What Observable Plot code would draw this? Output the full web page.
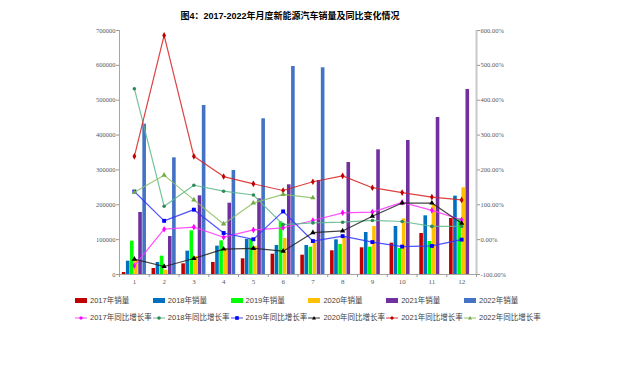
<!DOCTYPE html>
<html><head><meta charset="utf-8">
<script src="https://cdn.jsdelivr.net/npm/d3@7"></script>
<script src="https://cdn.jsdelivr.net/npm/@observablehq/plot@0.6"></script>
<style>
body{margin:0;background:#fff;}
#wrap{position:relative;width:620px;height:391px;overflow:hidden;background:#fff;}
#chart{position:absolute;left:0;top:0}
#title{position:absolute;left:0;top:9px;width:580px;text-align:center;font-weight:bold;font-size:9px;color:#000;line-height:14px;font-family:"Liberation Sans","Noto Sans CJK SC",sans-serif;}
.lg{position:absolute;font-size:7.5px;color:#404040;line-height:10px;white-space:nowrap;display:flex;align-items:center;font-family:"Liberation Sans","Noto Sans CJK SC",sans-serif;}
.sw{display:inline-block;width:12px;height:5px;margin-right:3px;}
.lg svg{margin-right:3px;}
</style></head><body>
<div id="wrap"><div id="chart"></div><div id="title">图4：2017-2022年月度新能源汽车销量及同比变化情况</div><div id="legend"></div></div>
<script>
const months = [1,2,3,4,5,6,7,8,9,10,11,12];
const leftTicks = [0,100000,200000,300000,400000,500000,600000,700000];

const sales2017 = [5700,17200,30600,34400,45000,58300,55400,68000,76600,89900,117600,160700];
const sales2018 = [38200,34400,66900,81300,100400,83200,83200,99500,120500,137700,168300,224800];
const sales2019 = [95600,52600,125300,96600,101000,151200,78300,86000,78300,74600,94700,159700];
const sales2020 = [40000,12400,51600,73600,80300,103300,95600,108200,137700,159700,200000,248700];
const sales2021 = [177900,109000,225700,204500,217100,257300,269700,321300,357700,384400,450400,530700];
const sales2022 = [431200,334700,484800,298400,446700,596700,593000];

const g2017 = [-75,30,36,7,28,34,55,77,79,107,84,57];
const g2018 = [433,96,156,139,128,43,48,50,55,52,38,38];
const g2019 = [138,54,86,19,1,81,-4,10,-7,-20,-18,0];
const g2020 = [-56,-77,-54,-27,-25,-33,20,25,67,105,105,47];
const g2021 = [239,586,239,181,160,141,166,183,149,135,122,114];
const g2022 = [136,185,114,45,105,130,120];

const barNames = ["2017年销量","2018年销量","2019年销量","2020年销量","2021年销量","2022年销量"];
const barColors = ["#c00000","#0070c0","#00ff00","#ffc000","#7030a0","#4472c4"];
const lineNames = ["2017年同比增长率","2018年同比增长率","2019年同比增长率","2020年同比增长率","2021年同比增长率","2022年同比增长率"];
const lineColors = ["#ff33ff","#5cb88a","#3333ff","#222222","#d62020","#8cc063"];
const markColors = ["#ff00ff","#2e8b57","#0000ff","#000000","#c00000","#70ad47"];
const markSymbols = ["diamond","circle","square","triangle","diamond","triangle"];

const salesAll = [sales2017,sales2018,sales2019,sales2020,sales2021,sales2022];
const growthAll = [g2017,g2018,g2019,g2020,g2021,g2022];

const W = 0.138, OFF = (1 - 6*W)/2;
const toY = g => (g + 100) * 1000;

const marks = [];
salesAll.forEach((arr, i) => {
  const data = arr.map((v, j) => ({m: months[j], v}));
  marks.push(Plot.rect(data, {
    x1: d => d.m - 0.5 + OFF + i*W,
    x2: d => d.m - 0.5 + OFF + (i+1)*W,
    y1: 0, y2: "v", fill: barColors[i], insetLeft: 0.25, insetRight: 0.25
  }));
});
marks.push(Plot.ruleX([0.5], {stroke: "#a6a6a6"}));
marks.push(Plot.ruleX([12.5], {stroke: "#c8c8c8", strokeWidth: 2}));
marks.push(Plot.ruleY([0], {stroke: "#a6a6a6"}));
growthAll.forEach((arr, i) => {
  const data = arr.map((g, j) => ({m: months[j], g}));
  marks.push(Plot.line(data, {x: "m", y: d => toY(d.g), stroke: lineColors[i], strokeWidth: 1.2, strokeOpacity: 0.85}));
  marks.push(Plot.dot(data, {x: "m", y: d => toY(d.g), symbol: markSymbols[i], fill: markColors[i], stroke: "none", r: markSymbols[i] === "circle" ? 1.8 : (markSymbols[i] === "square" ? 2.2 : 2)}));
});
marks.push(Plot.axisY({anchor: "left", ticks: leftTicks, tickFormat: d => String(d), tickSize: 3, tickPadding: 1, stroke: "#999", fill: "#595959", label: null}));
marks.push(Plot.axisY({anchor: "right", ticks: leftTicks, tickFormat: d => (d/1000 - 100).toFixed(2) + "%", tickSize: 3, tickPadding: 1, stroke: "#999", fill: "#595959", label: null}));
marks.push(Plot.axisX({ticks: months, tickSize: 0, tickPadding: 5, fill: "#595959", label: null, fontSize: 7}));
marks.push(Plot.axisX({ticks: d3.range(0.5, 13, 1), tickSize: 3, tickFormat: () => "", stroke: "#999", label: null}));

const chart = Plot.plot({
  width: 620, height: 290,
  marginTop: 30, marginBottom: 16, marginLeft: 119, marginRight: 144,
  x: {type: "linear", domain: [0.5, 12.5]},
  y: {domain: [0, 700000]},
  style: {fontFamily: "'Liberation Serif', serif", fontSize: "6.5px", color: "#595959", background: "transparent"},
  marks
});
document.getElementById("chart").appendChild(chart);

const legend = document.getElementById("legend");
barNames.forEach((n, i) => {
  const el = document.createElement("div");
  el.className = "lg";
  el.style.left = (75 + i*77.8) + "px";
  el.style.top = "295.7px";
  el.innerHTML = `<span class="sw" style="background:${barColors[i]}"></span>${n}`;
  legend.appendChild(el);
});
const shapes = {
  diamond: c => `<path d="M6,2 L8,4 L6,6 L4,4Z" fill="${c}"/>`,
  circle: c => `<circle cx="6" cy="4" r="1.8" fill="${c}"/>`,
  square: c => `<rect x="4.2" y="2.2" width="3.6" height="3.6" fill="${c}"/>`,
  triangle: c => `<path d="M6,2 L8,5.6 L4,5.6Z" fill="${c}"/>`
};
lineNames.forEach((n, i) => {
  const el = document.createElement("div");
  el.className = "lg";
  el.style.left = (75 + i*77.8) + "px";
  el.style.top = "312.7px";
  el.innerHTML = `<svg width="12" height="8"><line x1="0" y1="4" x2="12" y2="4" stroke="${lineColors[i]}" stroke-opacity="0.6" stroke-width="1.5"/>${shapes[markSymbols[i]](markColors[i])}</svg>${n}`;
  legend.appendChild(el);
});
</script>
</body></html>
